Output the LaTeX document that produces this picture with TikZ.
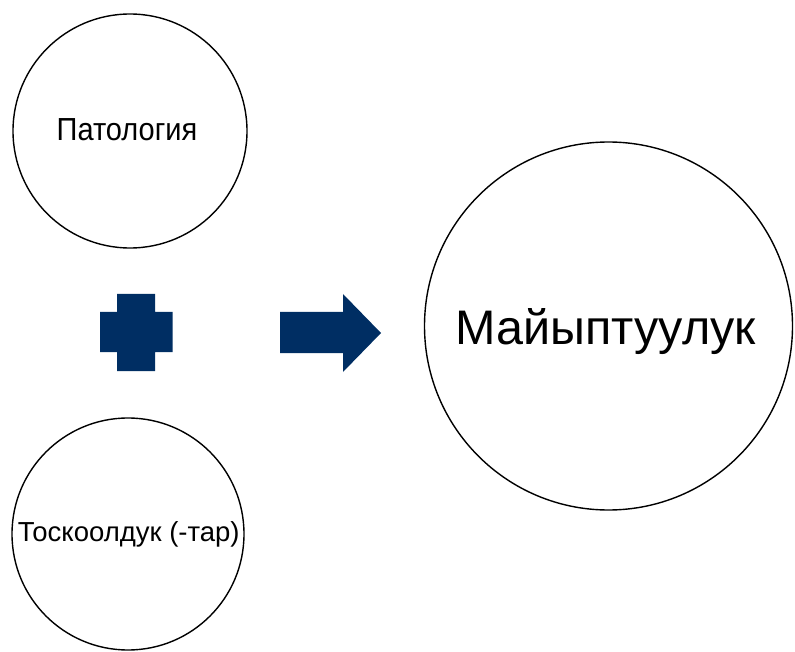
\documentclass[tikz,border=0pt]{standalone}
\usepackage{fontspec}
\setmainfont{Liberation Sans}
\definecolor{navy}{RGB}{0,46,99}
\begin{document}
\begin{tikzpicture}[x=1pt,y=-1pt,
  bubble/.style={draw=black, line width=1.4pt, circle, inner sep=0pt},
  lbl/.style={inner sep=0pt, anchor=base},
  shapefill/.style={fill=navy, draw=none}]
\useasboundingbox (0,0) rectangle (795,652);
\node[bubble, minimum size=234pt] (pat) at (130,131) {};
\node[bubble, minimum size=232pt] (tos) at (128,534) {};
\node[bubble, minimum size=368pt] (mai) at (608.5,326) {};
\node[lbl, font=\fontsize{29}{34}\selectfont] (patt) at (127,141) {\scalebox{1}[1.1]{Патология}};
\node[lbl, font=\fontsize{27.5}{33}\selectfont] (tost) at (128.7,541.7) {Тоскоолдук (-тар)};
\node[lbl, font=\fontsize{48.5}{58}\selectfont] (mait) at (605.8,344.3) {Майыптуулук};
% plus sign
\fill[shapefill] (117,294) -- (155,294) -- (155,312) -- (172.5,312) -- (172.5,352) -- (155,352) -- (155,371) -- (117,371) -- (117,352) -- (100,352) -- (100,312) -- (117,312) -- cycle;
% arrow
\fill[shapefill] (280,312) -- (343,312) -- (343,294) -- (381,333) -- (343,372) -- (343,353) -- (280,353) -- cycle;
\end{tikzpicture}
\end{document}
